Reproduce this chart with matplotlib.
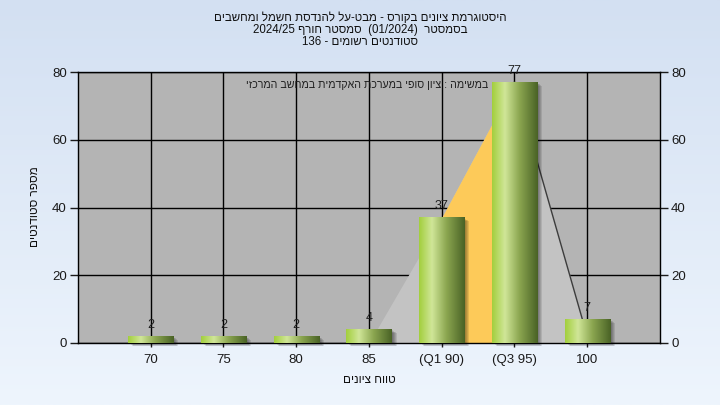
import re

import matplotlib
matplotlib.use('Agg')
import matplotlib.pyplot as plt
import numpy as np
from matplotlib.colors import LinearSegmentedColormap
from matplotlib.patches import Rectangle

plt.rcParams['font.family'] = ['Liberation Sans', 'DejaVu Sans']

categories = ['70', '75', '80', '85', '(Q1 90)', '(Q3 95)', '100']
counts = [2, 2, 2, 4, 37, 77, 7]
curve = [0, 0, 0, 0, 37, 77, 2]
quartile_idx = [4, 5]

title_lines = [
    'היסטוגרמת ציונים בקורס - מבט-על להנדסת חשמל ומחשבים',
    'בסמסטר  (01/2024)  סמסטר חורף 2024/25',
    'סטודנטים רשומים - 136',
]
legend_text = 'במשימה : ציון סופי במערכת האקדמית במחשב המרכזי'
y_label = 'מספר סטודנטים'
x_label = 'טווח ציונים'


def vis(s):
    # matplotlib has no bidi support, so put hebrew text into visual order
    r = s[::-1]
    r = re.sub(r'[0-9A-Za-z/.]+', lambda m: m.group(0)[::-1], r)
    return r.translate(str.maketrans('()', ')('))


fig = plt.figure(figsize=(7.2, 4.05), dpi=100)

bg = fig.add_axes([0, 0, 1, 1], zorder=-10)
grad = np.linspace(0, 1, 256).reshape(-1, 1)
bg_cmap = LinearSegmentedColormap.from_list('bg', ['#d3e0f2', '#eef5fd'])
bg.imshow(grad, aspect='auto', cmap=bg_cmap, extent=[0, 1, 0, 1])
bg.set_axis_off()

ax = fig.add_axes([0.1083, 0.1531, 0.8083, 0.6691])
ax.set_facecolor('#b4b4b4')
x = np.arange(len(categories))

ax.set_axisbelow(True)
ax.grid(True, color='black', lw=1)

# background distribution shape
ax.fill_between(x, curve, color='#c3c3c3', lw=0, zorder=1.2)
q0, q1 = quartile_idx
ax.fill_between(x[q0:q1 + 1], counts[q0:q1 + 1], color='#fdca59', lw=0, zorder=1.3)
ax.plot(x[q1:], curve[q1:], color='#3c3c3c', lw=1, zorder=1.4)

bar_cmap = LinearSegmentedColormap.from_list(
    'bar', [(0, '#a3cf3e'), (0.28, '#d0e698'), (0.6, '#8ba650'), (1, '#4a6326')])
bar_grad = np.linspace(0, 1, 100).reshape(1, -1)
w = 0.62
px = 8 / 582
py = 80 / 271
for xi, v in zip(x, counts):
    # soft shadow
    for k in range(1, 6):
        ax.add_patch(Rectangle((xi - w / 2 + k * px, -k * py * 0.7), w, v,
                               color='black', alpha=0.1, lw=0, zorder=2, clip_on=False))
    ax.imshow(bar_grad, aspect='auto', cmap=bar_cmap,
              extent=[xi - w / 2, xi + w / 2, 0, v], zorder=3)
    ax.annotate(str(v), (xi, v), xytext=(0, 4), textcoords='offset points',
                ha='center', va='bottom', fontsize=9, color='#202020', zorder=4)

ax.set_xlim(-1, 7)
ax.set_ylim(0, 80)
ax.set_xticks(x)
ax.set_xticklabels(categories)
ax.set_yticks([0, 20, 40, 60, 80])
ax.tick_params(axis='y', left=True, right=True, labelright=True, length=6, width=1,
               pad=2, labelsize=9.5, colors='#1a1a1a')
ax.tick_params(axis='x', length=3, width=1, pad=5, labelsize=9.5, colors='#1a1a1a')
for sp in ax.spines.values():
    sp.set_color('black')
    sp.set_linewidth(1)

ax.text(0.7045, 0.953, vis(legend_text), transform=ax.transAxes, ha='right', va='center',
        fontsize=7.7, color='#202020', zorder=5)

for i, line in enumerate(title_lines):
    fig.text(0.5, 1 - (18 + 12 * i) / 405, vis(line), ha='center', va='center',
             fontsize=8.3, color='#101010')

fig.text(35 / 720, 1 - 207 / 405, vis(y_label), rotation=90, ha='center', va='center',
         fontsize=8.5, color='#101010')
fig.text(369 / 720, 1 - 380 / 405, vis(x_label), ha='center', va='center',
         fontsize=8.5, color='#101010')

fig.savefig('out.png', dpi=100)
